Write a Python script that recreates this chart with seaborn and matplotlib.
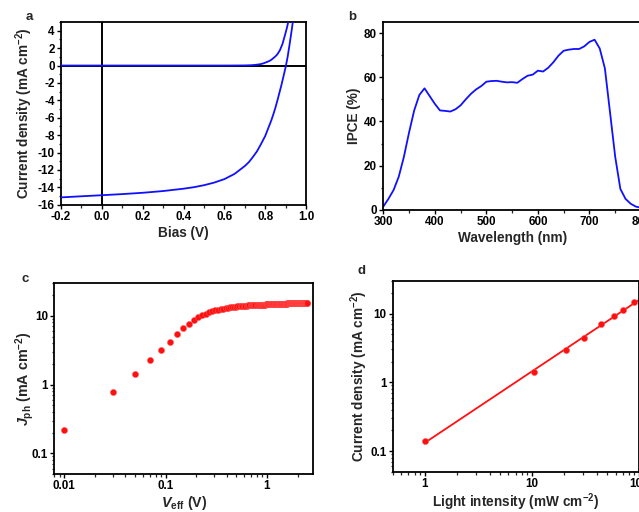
import numpy as np
import pandas as pd
import matplotlib
matplotlib.use("Agg")
import matplotlib.pyplot as plt
import seaborn as sns
from matplotlib.ticker import MultipleLocator, LogLocator, FixedLocator, NullFormatter, FuncFormatter

# ---------------- data ----------------
# panel a: J-V curves
bias_light = [-0.2, -0.1, 0.0, 0.1, 0.2, 0.3, 0.4, 0.45, 0.5, 0.55, 0.6, 0.65, 0.7, 0.72, 0.74,
              0.76, 0.78, 0.80, 0.81, 0.82, 0.83, 0.84, 0.85, 0.86, 0.87, 0.88, 0.89, 0.90,
              0.91, 0.92, 0.93, 0.94]
j_light = [-15.15, -15.02, -14.9, -14.77, -14.62, -14.42, -14.15, -13.98, -13.75, -13.45, -13.05,
           -12.45, -11.55, -11.1, -10.5, -9.85, -9.0, -8.1, -7.5, -6.9, -6.3, -5.6, -4.85, -4.0,
           -3.1, -2.2, -1.2, -0.2, 1.0, 2.5, 4.1, 5.8]
bias_dark = [-0.2, 0.0, 0.2, 0.4, 0.6, 0.65, 0.7, 0.73, 0.75, 0.775, 0.79, 0.80, 0.81, 0.82, 0.83,
             0.84, 0.85, 0.86, 0.872, 0.885, 0.897, 0.905, 0.913, 0.92]
j_dark = [0.0, 0.0, 0.0, 0.0, 0.0, 0.003, 0.012, 0.035, 0.07, 0.15, 0.24, 0.33, 0.42, 0.52, 0.66,
          0.85, 1.05, 1.3, 1.75, 2.5, 3.5, 4.2, 5.0, 5.8]

# panel b: IPCE spectrum
wavelength = [300, 310, 320, 330, 340, 350, 360, 370, 380, 390, 400, 410, 420, 430, 440, 450, 460,
              470, 480, 490, 500, 510, 520, 530, 540, 550, 560, 570, 580, 590, 600, 610, 620, 630,
              640, 650, 660, 670, 680, 690, 700, 710, 720, 730, 740, 750, 760, 770, 780, 790, 800]
ipce = [1.5, 5, 9, 15, 24, 35, 45, 52, 55, 51.5, 48, 45, 44.8, 44.5, 45.5, 47.3, 50, 52.5, 54.5,
        56, 58, 58.3, 58.4, 58, 57.7, 57.8, 57.5, 59.2, 60.7, 61.2, 63, 62.6, 64.3, 66.8, 69.8,
        72, 72.5, 72.8, 72.8, 74, 76, 77, 73, 64, 44, 24, 9.5, 5, 2.8, 1.5, 1.0]

# panel c: photocurrent vs effective voltage
v_eff = [0.01, 0.03, 0.05, 0.07, 0.09, 0.11, 0.13, 0.15, 0.17, 0.19, 0.21, 0.23, 0.25, 0.27, 0.29,
         0.31, 0.33, 0.35, 0.37, 0.39, 0.41, 0.43, 0.45, 0.47, 0.49, 0.51, 0.53, 0.55, 0.57, 0.59,
         0.61, 0.63, 0.65, 0.67, 0.69, 0.71, 0.73, 0.75, 0.77, 0.79, 0.81, 0.83, 0.85, 0.87, 0.89,
         0.91, 0.93, 0.95, 0.97, 0.99, 1.01, 1.03, 1.05, 1.07, 1.09, 1.11, 1.13, 1.15, 1.17, 1.19,
         1.21, 1.23, 1.25, 1.27, 1.29, 1.31, 1.33, 1.35, 1.37, 1.39, 1.41, 1.43, 1.45, 1.47, 1.49,
         1.51, 1.53, 1.55, 1.57, 1.59, 1.61, 1.63, 1.65, 1.67, 1.69, 1.71, 1.73, 1.75, 1.77, 1.79,
         1.81, 1.83, 1.85, 1.87, 1.89, 1.91, 1.93, 1.95, 1.97, 1.99, 2.01, 2.03, 2.05, 2.07, 2.09,
         2.11, 2.13, 2.15, 2.17, 2.19, 2.21, 2.23, 2.25, 2.27, 2.29, 2.31, 2.33, 2.35, 2.37, 2.39,
         2.41, 2.43, 2.45, 2.47, 2.49]
j_ph = [0.22, 0.78, 1.44, 2.24, 3.15, 4.2, 5.4, 6.55, 7.7, 8.7, 9.5, 10.2, 10.8, 11.3, 11.7,
        12.0, 12.3, 12.55, 12.75, 12.95, 13.1, 13.25, 13.4, 13.5, 13.6, 13.7, 13.78, 13.85, 13.92,
        13.98, 14.04, 14.09, 14.14, 14.18, 14.22, 14.26, 14.3, 14.33, 14.36, 14.39, 14.42, 14.45,
        14.48, 14.5, 14.53, 14.55, 14.57, 14.6, 14.62, 14.64, 14.66, 14.68, 14.7, 14.72, 14.74,
        14.76, 14.78, 14.8, 14.81, 14.83, 14.85, 14.86, 14.88, 14.9, 14.91, 14.93, 14.94, 14.96,
        14.97, 14.99, 15.0, 15.02, 15.03, 15.04, 15.06, 15.07, 15.08, 15.1, 15.11, 15.12, 15.13,
        15.15, 15.16, 15.17, 15.18, 15.19, 15.2, 15.22, 15.23, 15.24, 15.25, 15.26, 15.27, 15.28,
        15.29, 15.3, 15.31, 15.32, 15.33, 15.34, 15.35, 15.36, 15.37, 15.38, 15.39, 15.4, 15.41,
        15.42, 15.43, 15.44, 15.45, 15.46, 15.47, 15.48, 15.49, 15.5, 15.51, 15.52, 15.53, 15.54,
        15.55, 15.56, 15.57, 15.58, 15.59]

# panel d: current density vs light intensity
light_intensity = [1.0, 10.3, 20.5, 30.5, 44, 58, 71, 89]
j_sc = [0.138, 1.41, 2.93, 4.47, 6.97, 9.1, 11.3, 14.5]
fit_range = [1.0, 100.0]

# ---------------- style ----------------
sns.set_theme(style="ticks")
plt.rcParams['font.family'] = ['Liberation Sans', 'DejaVu Sans']
plt.rcParams['font.weight'] = 'bold'
plt.rcParams['axes.labelweight'] = 'bold'
plt.rcParams['mathtext.fontset'] = 'custom'
plt.rcParams['mathtext.rm'] = 'Liberation Sans:bold'
plt.rcParams['mathtext.bf'] = 'Liberation Sans:bold'
plt.rcParams['mathtext.it'] = 'Liberation Sans:bold:italic'
plt.rcParams['axes.linewidth'] = 1.3
plt.rcParams['axes.edgecolor'] = 'black'

BLUE = "#1010ff"
RED = "#ff1010"
TICK_FS = 8.4
LABEL_FS = 9.8

fig = plt.figure(figsize=(6.39, 5.12), dpi=100)

def style_axis(ax):
    for s in ax.spines.values():
        s.set_visible(True)
        s.set_linewidth(1.3)
        s.set_color('black')
    ax.tick_params(which='major', direction='out', length=3, width=1.0, labelsize=TICK_FS,
                   top=False, right=False, pad=1.5, colors='black')
    ax.tick_params(which='minor', direction='out', length=1.8, width=0.9, top=False, right=False)
    for lab in ax.get_xticklabels() + ax.get_yticklabels():
        lab.set_fontweight('bold')

# ---- panel a ----
axa = fig.add_axes([0.0955, 0.600, 0.3834, 0.357])
axa.axhline(0, color='black', lw=1.4, zorder=1)
axa.axvline(0, color='black', lw=1.4, zorder=1)
dfa_l = pd.DataFrame({"bias": bias_light, "j": j_light})
dfa_d = pd.DataFrame({"bias": bias_dark, "j": j_dark})
sns.lineplot(data=dfa_d, x="bias", y="j", ax=axa, color=BLUE, lw=1.3, sort=False, zorder=3)
sns.lineplot(data=dfa_l, x="bias", y="j", ax=axa, color=BLUE, lw=1.3, sort=False, zorder=3)
axa.set_xlim(-0.2, 1.0)
axa.set_ylim(-16, 5)
axa.xaxis.set_major_locator(MultipleLocator(0.2))
axa.xaxis.set_minor_locator(MultipleLocator(0.1))
axa.yaxis.set_major_locator(MultipleLocator(2))
axa.yaxis.set_minor_locator(MultipleLocator(1))
axa.xaxis.set_major_formatter(FuncFormatter(lambda v, p: f"{v:.1f}"))
axa.yaxis.set_major_formatter(FuncFormatter(lambda v, p: f"{v:.0f}"))
axa.set_xlabel("Bias (V)", fontsize=LABEL_FS, fontweight='bold', labelpad=2)
axa.set_ylabel("Current density (mA cm$^{-2}$)", fontsize=LABEL_FS, fontweight='bold')
axa.yaxis.set_label_coords(-0.105, 0.5)
style_axis(axa)

# ---- panel b ----
axb = fig.add_axes([0.5998, 0.590, 0.4033, 0.367])
dfb = pd.DataFrame({"wl": wavelength, "ipce": ipce})
sns.lineplot(data=dfb, x="wl", y="ipce", ax=axb, color=BLUE, lw=1.3)
axb.set_xlim(300, 800)
axb.set_ylim(0, 85)
axb.xaxis.set_major_locator(MultipleLocator(100))
axb.xaxis.set_minor_locator(MultipleLocator(50))
axb.yaxis.set_major_locator(MultipleLocator(20))
axb.yaxis.set_minor_locator(MultipleLocator(10))
axb.set_xlabel("Wavelength (nm)", fontsize=LABEL_FS, fontweight='bold', labelpad=2)
axb.set_ylabel("IPCE (%)", fontsize=LABEL_FS, fontweight='bold')
axb.yaxis.set_label_coords(-0.088, 0.5)
style_axis(axb)

# ---- panel c ----
axc = fig.add_axes([0.085, 0.0742, 0.405, 0.373])
dfc = pd.DataFrame({"v": v_eff, "j": j_ph})
sns.scatterplot(data=dfc, x="v", y="j", ax=axc, color=RED, s=20, edgecolor="#ff6060",
                linewidth=0.3, zorder=3)
axc.set_xscale('log')
axc.set_yscale('log')
axc.set_xlim(0.008, 2.85)
axc.set_ylim(0.05, 30)
axc.xaxis.set_major_locator(FixedLocator([0.01, 0.1, 1]))
axc.xaxis.set_minor_locator(LogLocator(base=10, subs=np.arange(2, 10)))
axc.xaxis.set_minor_formatter(NullFormatter())
axc.xaxis.set_major_formatter(FuncFormatter(lambda v, p: f"{v:g}"))
axc.yaxis.set_major_locator(FixedLocator([0.1, 1, 10]))
axc.yaxis.set_minor_locator(LogLocator(base=10, subs=np.arange(2, 10)))
axc.yaxis.set_minor_formatter(NullFormatter())
axc.yaxis.set_major_formatter(FuncFormatter(lambda v, p: f"{v:g}"))
axc.set_xlabel(r"$V_{\mathrm{eff}}$ (V)", fontsize=LABEL_FS + 0.5, fontweight='bold', labelpad=1)
axc.set_ylabel(r"$J_{\mathrm{ph}}$ (mA cm$^{-2}$)", fontsize=LABEL_FS + 0.5, fontweight='bold')
axc.yaxis.set_label_coords(-0.072, 0.5)
style_axis(axc)

# ---- panel d ----
axd = fig.add_axes([0.6146, 0.0787, 0.386, 0.373])
lx = np.log10(light_intensity)
ly = np.log10(j_sc)
coef = np.polyfit(lx, ly, 1)
fit_x = np.array(fit_range)
fit_y = 10 ** np.polyval(coef, np.log10(fit_x))
dfd_fit = pd.DataFrame({"x": fit_x, "y": fit_y})
dfd = pd.DataFrame({"x": light_intensity, "y": j_sc})
sns.lineplot(data=dfd_fit, x="x", y="y", ax=axd, color=RED, lw=1.3, zorder=2)
sns.scatterplot(data=dfd, x="x", y="y", ax=axd, color=RED, s=20, edgecolor="#ff6060",
                linewidth=0.3, zorder=3)
axd.set_xscale('log')
axd.set_yscale('log')
axd.set_xlim(0.5, 100)
axd.set_ylim(0.05, 30)
axd.xaxis.set_major_locator(FixedLocator([1, 10, 100]))
axd.xaxis.set_minor_locator(LogLocator(base=10, subs=np.arange(2, 10)))
axd.xaxis.set_minor_formatter(NullFormatter())
axd.xaxis.set_major_formatter(FuncFormatter(lambda v, p: f"{v:g}"))
axd.yaxis.set_major_locator(FixedLocator([0.1, 1, 10]))
axd.yaxis.set_minor_locator(LogLocator(base=10, subs=np.arange(2, 10)))
axd.yaxis.set_minor_formatter(NullFormatter())
axd.yaxis.set_major_formatter(FuncFormatter(lambda v, p: f"{v:g}"))
axd.set_xlabel("Light intensity (mW cm$^{-2}$)", fontsize=LABEL_FS, fontweight='bold', labelpad=1)
axd.set_ylabel("Current density (mA cm$^{-2}$)", fontsize=LABEL_FS, fontweight='bold')
axd.yaxis.set_label_coords(-0.092, 0.5)
style_axis(axd)

# panel letters
for (x, y, t) in [(29, 17, "a"), (352, 17, "b"), (25, 279, "c"), (362, 271, "d")]:
    fig.text(x / 639, 1 - y / 512, t, fontsize=9.5, fontweight='bold', ha='center', va='center')

fig.savefig("out.png", dpi=100)
